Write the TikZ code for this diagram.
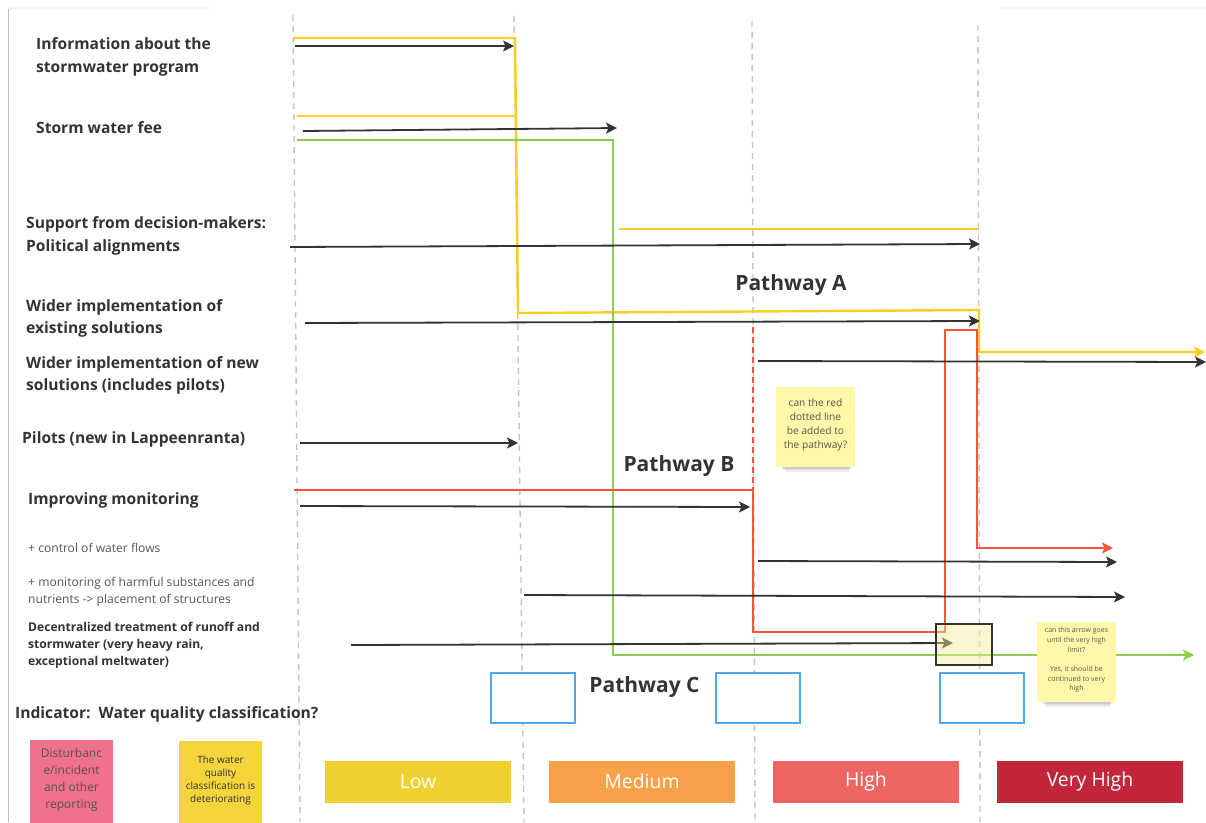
\documentclass[tikz,border=0pt]{standalone}
\usepackage{fontspec}
\setmainfont{Open Sans}
\usetikzlibrary{arrows.meta}
\definecolor{ink}{HTML}{333333}
\definecolor{softink}{HTML}{555555}
\definecolor{gridgray}{HTML}{C4C4C4}
\definecolor{frame}{HTML}{BDBDBD}
\definecolor{pathyel}{HTML}{FCCB24}
\definecolor{pathgrn}{HTML}{8CCF4E}
\definecolor{pathred}{HTML}{F2553A}
\definecolor{boxblue}{HTML}{4DA8F2}
\definecolor{notepale}{HTML}{FFF8A8}
\definecolor{notepink}{HTML}{F0728A}
\definecolor{notegold}{HTML}{F5D43C}
\definecolor{lvlLow}{HTML}{EFD232}
\definecolor{lvlMed}{HTML}{F8A14A}
\definecolor{lvlHigh}{HTML}{EC6561}
\definecolor{lvlVHigh}{HTML}{C1263B}
\definecolor{hilite}{HTML}{F6EC9A}
\begin{document}
\begin{tikzpicture}[x=1pt,y=-1pt,
  gridline/.style={draw=gridgray, line width=1.4pt, dash pattern=on 6pt off 5pt},
  tip/.style={-{Stealth[length=11pt,width=11pt,inset=2.5pt]}},
  act/.style={draw=ink, line width=1.8pt, tip},
  yelpath/.style={draw=pathyel, line width=2.4pt, line join=miter},
  grnpath/.style={draw=pathgrn, line width=2pt, line join=miter},
  redpath/.style={draw=pathred, line width=2pt, line join=miter},
  lab/.style={anchor=west, inner sep=0pt, align=left, text=ink,
    font=\fontsize{15.6}{22.5}\selectfont\bfseries},
  sublab/.style={anchor=west, inner sep=0pt, align=left, text=softink,
    font=\fontsize{12.1}{17}\selectfont},
  sublabb/.style={anchor=west, inner sep=0pt, align=left, text=ink,
    font=\fontsize{12.1}{17}\selectfont\bfseries},
  pathlab/.style={inner sep=0pt, text=ink, font=\fontsize{21}{24}\selectfont\bfseries},
  levelbar/.style={fill=#1, minimum width=186pt, minimum height=42pt, inner sep=0pt,
    text=white, font=\fontsize{19.4}{22}\selectfont},
  bluebox/.style={draw=boxblue, fill=white, line width=2pt, minimum width=84pt,
    minimum height=50pt, inner sep=0pt},
  sticky/.style={fill=notepale, minimum width=79pt, minimum height=80pt, inner sep=0pt},
  stickytext/.style={inner sep=0pt, align=center, text=softink},
  shade/.style={fill=black, opacity=0.07}
]
\useasboundingbox (0,0) rectangle (1206,822);

% frame edge on the left and faint top edge
\draw[frame, line width=1pt] (8,8) -- (8,822);
\draw[black!6, line width=2pt] (8,8) -- (210,8);
\draw[black!6, line width=2pt] (1000,8) -- (1206,8);

% level boundaries
\draw[gridline] (293,15) -- (300,822);
\draw[gridline] (514,16) -- (524,822);
\draw[gridline] (752,21) -- (755,822);
\draw[gridline] (978,25) -- (980,822);

% row labels
\node[lab] (l1) at (36,57) {Information about the\\stormwater program};
\node[lab] (l2) at (36,128) {Storm water fee};
\node[lab] (l3) at (26,236) {Support from decision-makers:\\Political alignments};
\node[lab] (l4) at (26,318.5) {Wider implementation of\\existing solutions};
\node[lab] (l5) at (26,375.5) {Wider implementation of new\\solutions (includes pilots)};
\node[lab] (l6) at (22,439) {Pilots (new in Lappeenranta)};
\node[lab] (l7) at (28,500) {Improving monitoring};
\node[sublab] (l8) at (28,548) {+ control of water flows};
\node[sublab] (l9) at (28,591.5) {+ monitoring of harmful substances and\\nutrients -> placement of structures};
\node[sublabb] (l10) at (28,645) {Decentralized treatment of runoff and\\stormwater (very heavy rain,\\exceptional meltwater)};
\node[lab, font=\fontsize{15.6}{18}\selectfont\bfseries] (l11) at (15,714) {Indicator:\ \ Water quality classification?};

% pathway A (yellow)
\coordinate (ya0) at (293,38);
\coordinate (ya1) at (515,38);
\coordinate (ya2) at (518,313);
\coordinate (ya3) at (979,310);
\coordinate (ya4) at (979,352);
\coordinate (ya5) at (1205,352);
\coordinate (yb0) at (297,116);
\coordinate (yb1) at (515.4,116);
\coordinate (yc0) at (619,229);
\coordinate (yc1) at (979,229);
\draw[yelpath] (yb0) -- (yb1);
\draw[yelpath] (yc0) -- (yc1);
\draw[yelpath, tip] (ya0) -- (ya1) -- (ya2) -- (ya3) -- (ya4) -- (ya5);

% pathway C (green)
\coordinate (g0) at (297,140);
\coordinate (g1) at (613,140);
\coordinate (g2) at (613,655);
\coordinate (g3) at (1194,655);
\draw[grnpath, tip] (g0) -- (g1) -- (g2) -- (g3);

% pathway B (red)
\coordinate (r0) at (294,490);
\coordinate (r1) at (753,490);
\coordinate (r2) at (753,632);
\coordinate (r3) at (945,632);
\coordinate (r4) at (945,330);
\coordinate (r5) at (977,330);
\coordinate (r6) at (977,548);
\coordinate (r7) at (1113,548);
\coordinate (rd0) at (753,327);
\draw[redpath, tip] (r0) -- (r1) -- (r2) -- (r3) -- (r4) -- (r5) -- (r6) -- (r7);
\draw[pathred, line width=2pt, dash pattern=on 6pt off 4pt] (rd0) -- (r1);

% measure arrows
\coordinate (a1s) at (295,46);   \coordinate (a1e) at (514,46);
\coordinate (a2s) at (303,131);  \coordinate (a2e) at (617,128);
\coordinate (a3s) at (290,247);  \coordinate (a3e) at (980,244);
\coordinate (a4s) at (305,323);  \coordinate (a4e) at (980,321);
\coordinate (a5s) at (758,361);  \coordinate (a5e) at (1206,362);
\coordinate (a6s) at (300,443);  \coordinate (a6e) at (518,443);
\coordinate (a7s) at (300,506);  \coordinate (a7e) at (750,507);
\coordinate (a8s) at (758,561);  \coordinate (a8e) at (1117,562);
\coordinate (a9s) at (524,595);  \coordinate (a9e) at (1125,597);
\coordinate (a10s) at (351,645); \coordinate (a10e) at (953,643);
\draw[act] (a1s) -- (a1e);
\draw[act] (a2s) -- (a2e);
\draw[act] (a3s) -- (a3e);
\draw[act] (a4s) -- (a4e);
\draw[act] (a5s) -- (a5e);
\draw[act] (a6s) -- (a6e);
\draw[act] (a7s) -- (a7e);
\draw[act] (a8s) -- (a8e);
\draw[act] (a9s) -- (a9e);
\draw[act] (a10s) -- (a10e);

% highlighted end of the decentralized treatment arrow
\node[draw=ink, line width=2pt, fill=hilite, fill opacity=0.45,
  minimum width=56pt, minimum height=41pt, inner sep=0pt] (hl) at (964,644.5) {};

% pathway titles
\node[pathlab] (pa) at (791,285) {Pathway A};
\node[pathlab] (pb) at (679,466) {Pathway B};
\node[pathlab] (pc) at (644.5,687) {Pathway C};

% empty marker boxes
\node[bluebox] (b1) at (533,698) {};
\node[bluebox] (b2) at (758,698) {};
\node[bluebox] (b3) at (982,698) {};

% comment notes with soft shadows
\foreach \d in {0,1.5,3,4.5} {
  \fill[shade] (780+\d,462) rectangle (853-\d,467+\d);
  \fill[shade] (1041+\d,697) rectangle (1114-\d,702+\d);
}
\node[sticky] (n1) at (815.5,427) {};
\node[stickytext, font=\fontsize{10.2}{14}\selectfont] (n1t) at (815.5,425)
  {can the red\\dotted line\\be added to\\the pathway?};
\node[sticky] (n2) at (1076.5,662) {};
\node[stickytext, font=\fontsize{7}{9.7}\selectfont] (n2t) at (1076.5,660)
  {can this arrow goes\\until the very high\\limit?\\[9.7pt]Yes, it should be\\continued to very\\high};

% indicator notes
\node[fill=notepink, minimum width=83pt, minimum height=94pt, inner sep=0pt] (n3) at (71.5,787) {};
\node[stickytext, text=ink!85, font=\fontsize{12}{17}\selectfont] (n3t) at (71.5,780)
  {Disturbanc\\e/incident\\and other\\reporting};
\node[fill=notegold, minimum width=83pt, minimum height=94pt, inner sep=0pt] (n4) at (220.5,788) {};
\node[stickytext, text=ink, font=\fontsize{10}{13}\selectfont] (n4t) at (220.5,780)
  {The water\\quality\\classification is\\deteriorating};

% level scale
\node[levelbar=lvlLow] (lv1) at (418,781.5) {Low};
\node[levelbar=lvlMed] (lv2) at (642,781.5) {Medium};
\node[levelbar=lvlHigh] (lv3) at (866,781.5) {High};
\node[levelbar=lvlVHigh] (lv4) at (1090,781.5) {Very High};
\end{tikzpicture}
\end{document}
